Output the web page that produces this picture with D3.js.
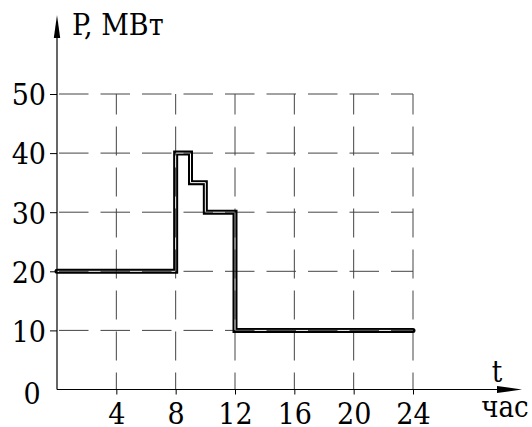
<!DOCTYPE html>
<html>
<head>
<meta charset="utf-8">
<script src="https://cdn.jsdelivr.net/npm/d3@7"></script>
<style>
  html, body { margin: 0; padding: 0; background: #fff; }
  svg { display: block; }
</style>
</head>
<body>
<svg id="chart" width="532" height="427"></svg>
<script>
// ---- data ----
const hours = [0, 8, 9, 10, 12, 24];
const power = [20, 40, 35, 30, 10, 10];
const xTicks = [4, 8, 12, 16, 20, 24];
const yTicks = [10, 20, 30, 40, 50];
const yTitle = "P, МВт";
const xTitle = "t";
const xUnit = "час";

const F1 = "'DejaVu Serif Condensed', 'DejaVu Serif', serif";
const svg = d3.select("#chart");
const x = d3.scaleLinear().domain([0, 24]).range([57, 413]);
const y = d3.scaleLinear().domain([0, 50]).range([389.5, 94]);

// grid
const grid = svg.append("g").attr("stroke", "#444").attr("stroke-width", 1).attr("fill", "none");
grid.selectAll("line.h").data(yTicks).join("line")
  .attr("class", "h")
  .attr("x1", x(0)).attr("x2", x(24))
  .attr("y1", d => y(d)).attr("y2", d => y(d))
  .attr("stroke-dasharray", "29.5,12").attr("stroke-dashoffset", -2);
grid.selectAll("line.v").data(xTicks).join("line")
  .attr("class", "v")
  .attr("x1", d => x(d)).attr("x2", d => x(d))
  .attr("y1", y(0)).attr("y2", y(50))
  .attr("stroke-dasharray", "29,12").attr("stroke-dashoffset", 12);

const yAxis = svg.append("g").attr("transform", `translate(${x(0)},0)`)
  .call(d3.axisLeft(y).tickValues(yTicks).tickSize(7).tickPadding(4).tickFormat(d3.format("d")));
yAxis.attr("font-family", F1);
yAxis.select(".domain").remove();
yAxis.selectAll(".tick line").attr("stroke", "#000");
yAxis.selectAll(".tick text").attr("font-size", 30).attr("dy", "0.36em");

const xAxis = svg.append("g").attr("transform", `translate(0,${y(0)})`)
  .call(d3.axisBottom(x).tickValues(xTicks).tickSize(5).tickPadding(0).tickFormat(d3.format("d")));
xAxis.attr("font-family", F1);
xAxis.select(".domain").remove();
xAxis.selectAll(".tick line").attr("stroke", "#000");
xAxis.selectAll(".tick text").attr("font-size", 30).attr("dy", null).attr("y", 34.5);

svg.append("text").attr("x", 32).attr("y", 404).attr("text-anchor", "middle")
  .attr("font-size", 30).attr("font-family", F1).text("0");

svg.append("line").attr("x1", x(0)).attr("x2", x(0)).attr("y1", y(0)).attr("y2", 30)
  .attr("stroke", "#000").attr("stroke-width", 1.2);
svg.append("path").attr("d", `M${x(0)},15 L${x(0) - 3.2},38 L${x(0) + 3.2},38 Z`).attr("fill", "#000");
svg.append("line").attr("x1", x(0)).attr("x2", 505).attr("y1", y(0)).attr("y2", y(0))
  .attr("stroke", "#000").attr("stroke-width", 1.2);
svg.append("path").attr("d", `M522,${y(0)} L497,${y(0) - 3.5} L497,${y(0) + 3.5} Z`).attr("fill", "#000");

svg.append("text").attr("x", 72).attr("y", 35).attr("font-size", 30)
  .attr("font-family", F1).text(yTitle);
svg.append("text").attr("x", 497).attr("y", 382).attr("text-anchor", "middle").attr("font-size", 29).attr("font-family", F1).text(xTitle);
svg.append("text").attr("x", 505).attr("y", 417).attr("text-anchor", "middle").attr("font-size", 29).attr("font-family", F1).text(xUnit);

const line = d3.line().x((d, i) => x(hours[i])).y(d => y(d)).curve(d3.curveStepAfter);
const pathD = line(power);
const defs = svg.append("defs");
const mask = defs.append("mask").attr("id", "hollow").attr("maskUnits", "userSpaceOnUse")
  .attr("x", 0).attr("y", 0).attr("width", 532).attr("height", 427);
mask.append("rect").attr("width", 532).attr("height", 427).attr("fill", "#fff");
mask.append("path").attr("d", pathD).attr("fill", "none").attr("stroke", "#000").attr("stroke-width", 1);
svg.append("path").attr("d", pathD).attr("fill", "none").attr("stroke", "#000")
  .attr("stroke-width", 5).attr("stroke-linecap", "round").attr("stroke-linejoin", "miter")
  .attr("mask", "url(#hollow)");
</script>
</body>
</html>
